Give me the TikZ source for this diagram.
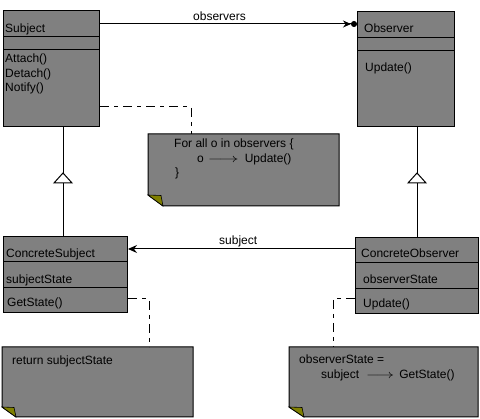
\documentclass[tikz,border=0pt]{standalone}
\usepackage{fontspec}
\setmainfont{Liberation Sans}
\usetikzlibrary{arrows.meta}
\definecolor{boxgray}{RGB}{128,128,128}
\definecolor{foldolive}{RGB}{128,128,0}
\begin{document}
\begin{tikzpicture}[x=1pt,y=-1pt,
  classbox/.style={draw=black, fill=boxgray, line width=1pt, anchor=north west, inner sep=0pt},
  notebox/.style={draw=black, fill=boxgray, line width=1pt},
  fold/.style={draw=black, fill=foldolive, line width=0.6pt},
  sepline/.style={draw=black, line width=1pt},
  txt/.style={anchor=base west, inner sep=0pt, font=\fontsize{12}{14}\selectfont},
  link/.style={draw=black, line width=1pt},
  notelink/.style={draw=black, line width=1pt, dash pattern=on 9pt off 5pt on 4pt off 5pt},
  inh/.style={draw=black, fill=white, line width=1pt}]
\useasboundingbox[fill=white] (0,0) rectangle (480,419);

% ---------- class boxes ----------
\node[classbox, minimum width=96pt, minimum height=116pt] (subj) at (3,10) {};
\node[classbox, minimum width=97pt, minimum height=115pt] (obs) at (357,11) {};
\node[classbox, minimum width=124pt, minimum height=76pt] (csubj) at (3,236) {};
\node[classbox, minimum width=123pt, minimum height=76pt] (cobs) at (355,237) {};

% separators
\draw[sepline] (subj.west |- 0,37) -- (subj.east |- 0,37);
\draw[sepline] (subj.west |- 0,50) -- (subj.east |- 0,50);
\draw[sepline] (obs.west |- 0,38) -- (obs.east |- 0,38);
\draw[sepline] (obs.west |- 0,51) -- (obs.east |- 0,51);
\draw[sepline] (csubj.west |- 0,262) -- (csubj.east |- 0,262);
\draw[sepline] (csubj.west |- 0,288) -- (csubj.east |- 0,288);
\draw[sepline] (cobs.west |- 0,263) -- (cobs.east |- 0,263);
\draw[sepline] (cobs.west |- 0,289) -- (cobs.east |- 0,289);

% class texts
\node[txt] (tsubj) at (5,33) {Subject};
\node[txt] (tattach) at (5,63) {Attach()};
\node[txt] (tdetach) at (5,78) {Detach()};
\node[txt] (tnotify) at (5,92) {Notify()};
\node[txt] (tobs) at (364,33) {Observer};
\node[txt] (tupd) at (365,72) {Update()};
\node[txt] (tcsubj) at (6,258) {ConcreteSubject};
\node[txt] (tsstate) at (6,284) {subjectState};
\node[txt] (tgets) at (7,307) {GetState()};
\node[txt] (tcobs) at (361,258) {ConcreteObserver};
\node[txt] (tostate) at (363,284) {observerState};
\node[txt] (tupd2) at (363,308) {Update()};

% ---------- notes ----------
\filldraw[notebox] (148,134) -- (339,134) -- (339,206) -- (163,206) -- (148,195) -- cycle;
\filldraw[fold] (148,195) -- (161,195.5) -- (163,206) -- cycle;
\coordinate (n1top) at (191,134);
\node[txt] (n1a) at (174,148) {For all o in observers \{};
\node[txt] (n1b) at (197,163) {o\hspace{4pt}\scalebox{1.6}[1]{$\longrightarrow$}\hspace{6pt}Update()};
\node[txt] (n1c) at (175,177) {\}};

\filldraw[notebox] (2,347) -- (193,347) -- (193,417) -- (16,417) -- (2,407) -- cycle;
\filldraw[fold] (2,407) -- (14,407.5) -- (16,417) -- cycle;
\coordinate (n2top) at (149,347);
\node[txt] (n2a) at (12,365) {return subjectState};

\filldraw[notebox] (289,347) -- (478,347) -- (478,417) -- (304,417) -- (289,407) -- cycle;
\filldraw[fold] (289,407) -- (302,407.5) -- (304,417) -- cycle;
\coordinate (n3top) at (333,347);
\node[txt] (n3a) at (299,364) {observerState =};
\node[txt] (n3b) at (321,379) {subject\hspace{7pt}\scalebox{1.45}[1]{$\longrightarrow$}\hspace{5pt}GetState()};

% ---------- connectors ----------
% association observers
\draw[link, -{Stealth[length=8pt,width=7pt]Circle[length=6pt]}] (subj.east |- 0,24) -- (obs.west |- 0,24);
\node[txt] (lobs) at (193,21) {observers};

% association subject
\draw[link, -{Stealth[length=9pt,width=8pt,inset=3pt]}] (cobs.west |- 0,249) -- (csubj.east |- 0,249);
\node[txt] (lsubj) at (219,245) {subject};

% inheritance
\coordinate (ia) at (63,0);
\coordinate (ib) at (417,0);
\draw[link] (subj.south -| ia) -- (csubj.north -| ia);
\draw[inh] (63,173) -- (72,183) -- (54,183) -- cycle;
\draw[link] (obs.south -| ib) -- (cobs.north -| ib);
\draw[inh] (417,173) -- (426,183) -- (408,183) -- cycle;

% note links
\coordinate (c1) at (191,107);
\draw[notelink] (subj.east |- c1) -- (c1) -- (n1top);
\coordinate (c2) at (149,299);
\draw[notelink] (csubj.east |- c2) -- (c2) -- (n2top);
\coordinate (c3) at (333,299);
\draw[notelink] (cobs.west |- c3) -- (c3) -- (n3top);
\end{tikzpicture}
\end{document}
